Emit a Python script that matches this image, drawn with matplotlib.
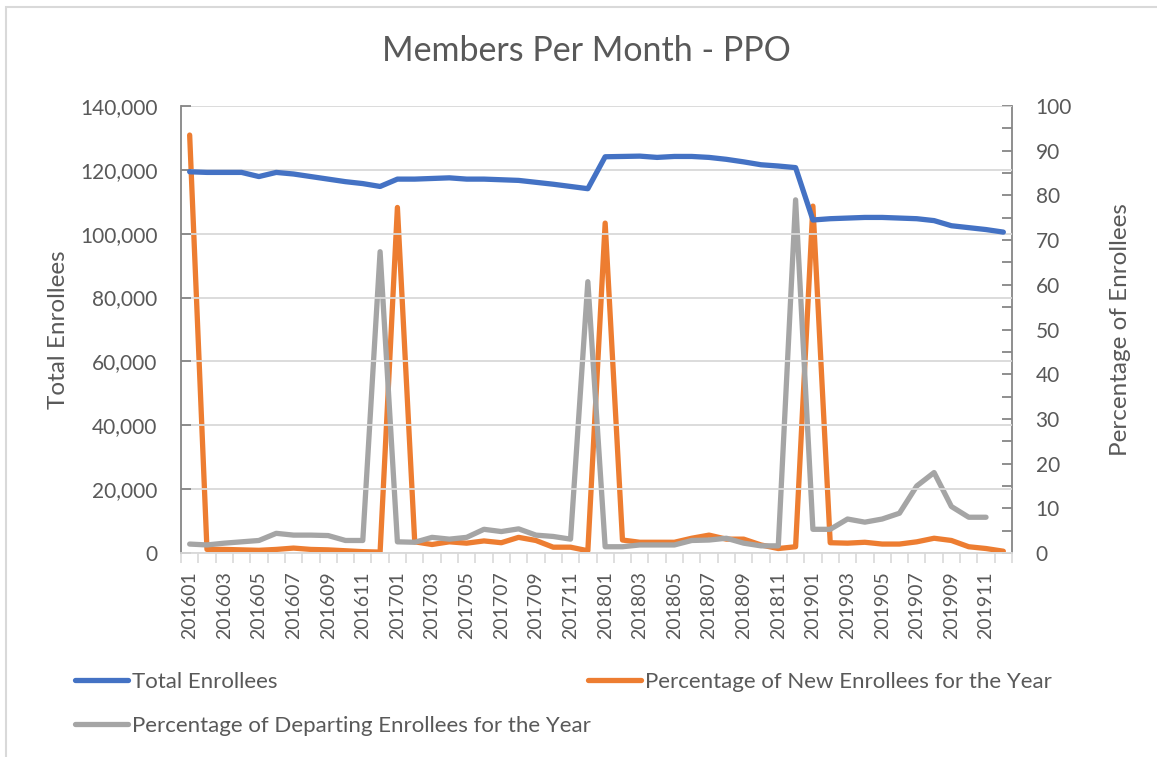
import numpy as np
import matplotlib
matplotlib.use("Agg")
import matplotlib.pyplot as plt
from matplotlib.ticker import FuncFormatter, MultipleLocator
from matplotlib.patches import Rectangle
from matplotlib.lines import Line2D

plt.rcParams['font.family'] = ['Lato', 'DejaVu Sans']

months = [f"{y}{m:02d}" for y in (2016, 2017, 2018, 2019) for m in range(1, 13)]

total_enrollees = [
    119400, 119200, 119200, 119200, 117900, 119200, 118700, 117900, 117100, 116300, 115700, 114800,
    117100, 117100, 117300, 117500, 117100, 117100, 116900, 116700, 116100, 115500, 114800, 114100,
    124100, 124200, 124300, 123900, 124200, 124200, 123900, 123300, 122500, 121600, 121200, 120700,
    104300, 104700, 104900, 105100, 105100, 104900, 104700, 104100, 102500, 101900, 101300, 100500,
]
pct_new = [
    93.5, 0.8, 0.8, 0.7, 0.6, 0.8, 1.1, 0.8, 0.7, 0.5, 0.3, 0.2,
    77.3, 2.5, 1.9, 2.5, 2.2, 2.7, 2.3, 3.5, 2.8, 1.3, 1.3, 0.5,
    73.8, 2.9, 2.4, 2.4, 2.4, 3.3, 4.0, 3.1, 3.1, 1.8, 1.0, 1.4,
    77.6, 2.3, 2.2, 2.4, 2.0, 2.0, 2.5, 3.3, 2.8, 1.4, 1.0, 0.4,
]
pct_departing = [
    2.0, 1.8, 2.2, 2.5, 2.8, 4.4, 4.0, 4.0, 3.9, 2.8, 2.8, 67.4,
    2.5, 2.4, 3.5, 3.1, 3.5, 5.3, 4.8, 5.4, 4.0, 3.7, 3.1, 60.7,
    1.4, 1.4, 1.8, 1.8, 1.8, 2.8, 2.9, 3.3, 2.2, 1.6, 1.6, 79.0,
    5.3, 5.3, 7.6, 6.9, 7.6, 8.9, 15.0, 18.0, 10.4, 8.0, 8.0, np.nan,
]

BLUE = '#4472C4'
ORANGE = '#ED7D31'
GRAY = '#A5A5A5'
TXT = '#595959'
AX = '#868686'

fig = plt.figure(figsize=(11.57, 7.57), dpi=100)
fig.patches.append(Rectangle((6 / 1157, -0.1), 1.2, (757 - 7) / 757 + 0.1,
                             transform=fig.transFigure, fill=False,
                             edgecolor='#d9d9d9', linewidth=1.5))

ax = fig.add_axes([181 / 1157, 1 - 553 / 757, (1012 - 181) / 1157, (553 - 106) / 757])
ax2 = ax.twinx()

x = np.arange(len(months))
lw = 3.8
ax.plot(x, total_enrollees, color=BLUE, lw=lw, solid_capstyle='round', solid_joinstyle='round', zorder=3)
ax2.plot(x, pct_new, color=ORANGE, lw=lw, solid_capstyle='round', solid_joinstyle='round')
ax2.plot(x, pct_departing, color=GRAY, lw=lw, solid_capstyle='round', solid_joinstyle='round')
ax.set_zorder(ax2.get_zorder() + 1)
ax.patch.set_visible(False)

ax.set_xlim(-0.5, len(months) - 0.5)
ax.set_ylim(0, 140000)
ax2.set_ylim(0, 100)

ax.yaxis.set_major_locator(MultipleLocator(20000))
ax.yaxis.set_major_formatter(FuncFormatter(lambda v, p: f"{int(v):,}"))
ax2.yaxis.set_major_locator(MultipleLocator(10))
ax2.yaxis.set_minor_locator(MultipleLocator(5))
ax.grid(axis='y', color='#d9d9d9', lw=1.3)
ax.set_axisbelow(True)

ax.set_xticks(x[::2])
ax.set_xticklabels(months[::2], rotation=90)
ax.set_xticks(np.arange(-0.5, len(months)), minor=True)
ax.tick_params(axis='x', which='major', length=0, pad=13, labelsize=14, labelcolor=TXT)
ax.tick_params(axis='x', which='minor', length=7, color='#d9d9d9', width=1.2, direction='out')
ax.tick_params(axis='y', length=7, color=AX, width=1.3, direction='in', labelsize=15, labelcolor=TXT, pad=17)
ax2.tick_params(axis='y', which='both', length=7, color=AX, width=1.3, direction='in', labelsize=15,
                labelcolor=TXT, pad=17)

for a in (ax, ax2):
    for s in a.spines.values():
        s.set_visible(False)
ax.spines['left'].set_visible(True)
ax.spines['left'].set_color(AX)
ax.spines['left'].set_linewidth(1.3)
ax2.spines['right'].set_visible(True)
ax2.spines['right'].set_color(AX)
ax2.spines['right'].set_linewidth(1.3)
ax.spines['bottom'].set_visible(True)
ax.spines['bottom'].set_color('#d9d9d9')
ax.spines['bottom'].set_linewidth(1.3)

ax.set_ylabel('Total Enrollees', fontsize=17.5, color=TXT)
ax.yaxis.set_label_coords(-0.135, 0.5)
ax2.set_ylabel('Percentage of Enrollees', fontsize=17.5, color=TXT)
ax2.yaxis.set_label_coords(1.118, 0.5)

fig.text(586 / 1157, 1 - 51 / 757, 'Members Per Month - PPO', fontsize=24.5, color=TXT, ha='center', va='center')

handles = [Line2D([], [], color=BLUE, lw=lw, solid_capstyle='round'),
           Line2D([], [], color=ORANGE, lw=lw, solid_capstyle='round'),
           Line2D([], [], color=GRAY, lw=lw, solid_capstyle='round')]
labels = ['Total Enrollees', 'Percentage of New Enrollees for the Year',
          'Percentage of Departing Enrollees for the Year']
leg_kw = dict(loc='center left', frameon=False, fontsize=16, labelcolor=TXT, handlelength=2.4,
              handletextpad=0.15, borderpad=0, borderaxespad=0)
fig.legend(handles[:1], labels[:1], bbox_to_anchor=(75 / 1157, 1 - 682 / 757), **leg_kw)
fig.legend(handles[1:2], labels[1:2], bbox_to_anchor=(588 / 1157, 1 - 682 / 757), **leg_kw)
fig.legend(handles[2:], labels[2:], bbox_to_anchor=(75 / 1157, 1 - 726 / 757), **leg_kw)

fig.savefig('out.png', dpi=100)
